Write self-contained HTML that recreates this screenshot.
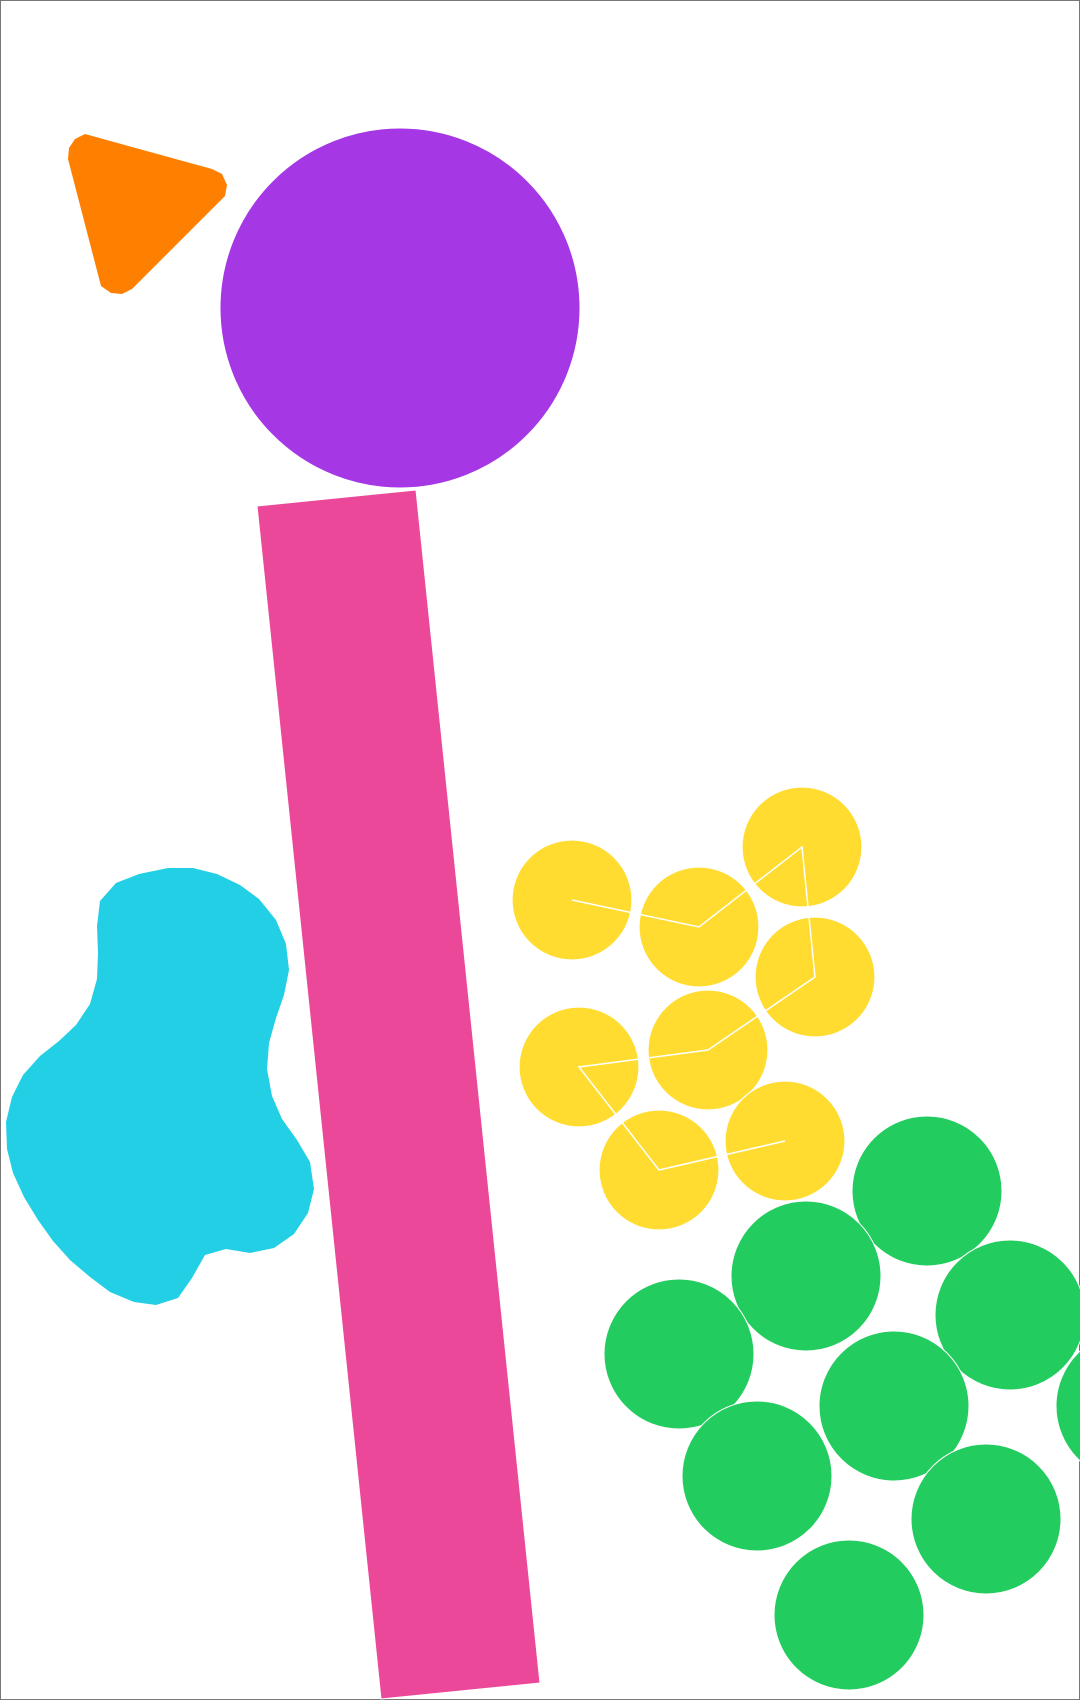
<!DOCTYPE html>
<html><head><meta charset="utf-8"><style>
html,body{margin:0;padding:0;background:#fff;}
svg{display:block;}
</style></head><body>
<svg width="1080" height="1700" viewBox="0 0 1080 1700" xmlns="http://www.w3.org/2000/svg">
<rect x="0.5" y="0.5" width="1079" height="1699" fill="#fff" stroke="#777" stroke-width="1"/>
<polygon fill="#FF8000" points="85,134 75,139 69,148 68,159 101,286 111,293 122,294 132,289 225,196 227,185 222,174 212,169"/>
<circle cx="400" cy="308" r="180" fill="#A537E4" stroke="#fff" stroke-width="1"/>
<polygon fill="#EC4899" stroke="#fff" stroke-width="1" points="257,506 416,490 540,1683 381,1699"/>
<polygon fill="#22CFE4" points="168,868 193,868 217,874 240,885 259,899 276,920 286,944 289,970 284,995 276,1018 269,1043 267,1069 272,1096 282,1119 297,1140 310,1162 314,1189 308,1213 294,1234 274,1248 250,1253 226,1249 205,1255 192,1278 178,1298 156,1305 134,1302 110,1292 90,1277 70,1260 53,1241 38,1220 24,1197 13,1173 7,1149 6,1122 12,1097 23,1075 40,1056 59,1041 76,1025 90,1004 97,979 98,953 97,926 100,901 116,883 139,874"/>
<g id="yellow"></g>
<g id="green"></g>
</svg>
<script>
const yellowX=[572,699,802,815,708,579,659,785];
const yellowY=[900,927,847,977,1050,1067,1170,1141];
const greenX=[927,806,1010,679,894,757,986,849,1131];
const greenY=[1191,1276,1315,1354,1406,1476,1519,1615,1406];
const NS='http://www.w3.org/2000/svg';
const yg=document.getElementById('yellow');
for(let i=0;i<yellowX.length;i++){
  const c=document.createElementNS(NS,'circle');
  c.setAttribute('cx',yellowX[i]);c.setAttribute('cy',yellowY[i]);c.setAttribute('r',60);
  c.setAttribute('fill','#FFDC2F');c.setAttribute('stroke','#fff');c.setAttribute('stroke-width','1.2');
  
  
  yg.appendChild(c);
}
const pl=document.createElementNS(NS,'polyline');
pl.setAttribute('points',yellowX.map((x,i)=>x+','+yellowY[i]).join(' '));
pl.setAttribute('fill','none');pl.setAttribute('stroke','#fff');pl.setAttribute('stroke-width','1.5');


yg.appendChild(pl);
const gg=document.getElementById('green');
for(let i=0;i<greenX.length;i++){
  const c=document.createElementNS(NS,'circle');
  c.setAttribute('cx',greenX[i]);c.setAttribute('cy',greenY[i]);c.setAttribute('r',75);
  c.setAttribute('fill','#22CC5E');c.setAttribute('stroke','#fff');c.setAttribute('stroke-width','1');
  
  
  gg.appendChild(c);
}
</script>
</body></html>
